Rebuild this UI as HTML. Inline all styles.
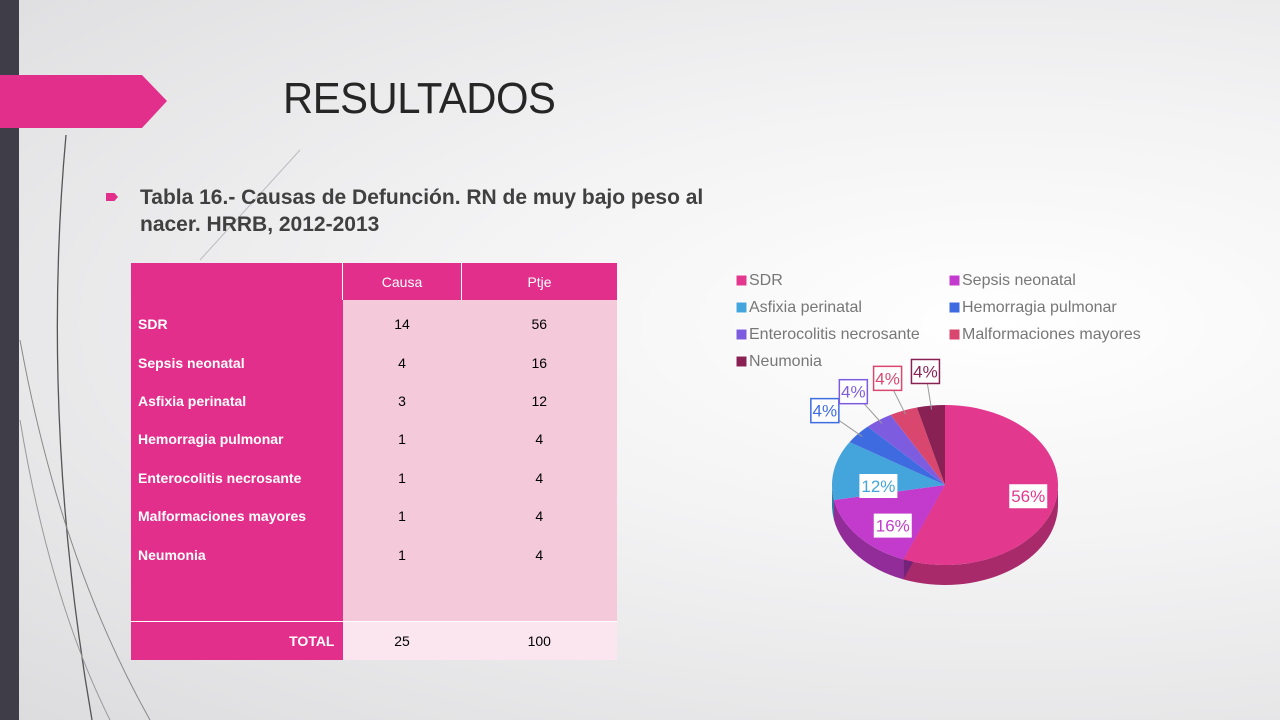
<!DOCTYPE html>
<html><head><meta charset="utf-8"><style>
body{margin:0;width:1280px;height:720px;overflow:hidden;font-family:"Liberation Sans",sans-serif;}
#slide{position:relative;width:1280px;height:720px;background:radial-gradient(ellipse at 78% 45%,#ffffff 0%,#f3f3f4 40%,#dcdcde 100%);}
.abs{position:absolute;}
table{border-collapse:collapse;font-size:14px;}
td{padding:0;}
</style></head><body>
<div id="slide">
<div class="abs" style="left:0;top:0;width:19px;height:720px;background:#3f3e48"></div>
<svg class="abs" style="left:0;top:0" width="400" height="720">
<path d="M66 135 Q40 420 92 720" stroke="#555" stroke-width="1.3" fill="none"/>
<path d="M20 340 Q60 560 150 720" stroke="#888" stroke-width="1" fill="none"/>
<path d="M20 420 Q50 600 110 720" stroke="#999" stroke-width="1" fill="none"/>
<path d="M200 260 L300 150" stroke="#bbb" stroke-width="1" fill="none"/>
</svg>
<svg class="abs" style="left:0;top:75" width="170" height="54"><polygon points="0,0 142,0 167,26 142,53 0,53" fill="#e22f8c"/></svg>
<div class="abs" style="left:283px;top:74px;font-size:44px;color:#262626;letter-spacing:-0.5px;transform:scaleX(0.95);transform-origin:left;">RESULTADOS</div>
<div class="abs" style="left:106px;top:193px;width:12px;height:8px;background:#e22f8c;clip-path:polygon(0 0,70% 0,100% 50%,70% 100%,0 100%)"></div>
<div class="abs" style="left:140px;top:184px;font-size:21px;font-weight:bold;color:#404040;line-height:27px;width:575px;">Tabla 16.- Causas de Defunción. RN de muy bajo peso al nacer. HRRB, 2012-2013</div>
<table class="abs" style="left:131px;top:263px;width:486px">
<tr style="height:37px;background:#e22f8c;color:#fff"><td style="width:211px;border-right:1px solid #fff"></td><td style="width:118px;text-align:center;border-right:1px solid #fff">Causa</td><td style="text-align:center">Ptje</td></tr>
<tr style="height:5px"><td style="background:#e22f8c"></td><td style="background:#f4cadb"></td><td style="background:#f4cadb"></td></tr>
<tbody id="tb"></tbody>
<tr style="height:38px"><td style="background:#e22f8c;color:#fff;font-weight:bold;text-align:right;padding-right:8px;border-top:1px solid #fff">TOTAL</td><td style="background:#fbe6ef;text-align:center;border-top:1px solid #fff">25</td><td style="background:#fbe6ef;text-align:center;border-top:1px solid #fff">100</td></tr>
</table>
<svg class="abs" style="left:700px;top:260px" width="580" height="360" id="chart"></svg>
</div>
<script>
const categories=["SDR","Sepsis neonatal","Asfixia perinatal","Hemorragia pulmonar","Enterocolitis necrosante","Malformaciones mayores","Neumonia"];
const counts=[14,4,3,1,1,1,1];
const percents=[56,16,12,4,4,4,4];
const colors=["#e2388e","#c33bcc","#44a4dc","#3f6be0","#7e5ce0","#d9466e","#8a2155"];
const NS="http://www.w3.org/2000/svg";
const tb=document.getElementById('tb');
categories.forEach((c,i)=>{
 const tr=document.createElement('tr');
 
 
 tr.style.height='38.4px';
 tr.innerHTML=`<td style="background:#e22f8c;color:#fff;font-weight:bold;padding-left:7px">${c}</td><td style="background:#f4cadb;text-align:center">${counts[i]}</td><td style="background:#f4cadb;text-align:center">${percents[i]}</td>`;
 tb.appendChild(tr);
});
const sp=document.createElement('tr');


sp.style.height='48px';
sp.innerHTML='<td style="background:#e22f8c"></td><td style="background:#f4cadb"></td><td style="background:#f4cadb"></td>';
tb.appendChild(sp);
const svg=document.getElementById('chart');
function el(t,a){const e=document.createElementNS(NS,t);for(const k in a)e.setAttribute(k,a[k]);svg.appendChild(e);return e;}
categories.forEach((c,i)=>{
 const col=i%2, row=Math.floor(i/2);
 const x=36+col*213, y=25+row*27;
 const r=el('rect',{x:x,y:y-10,width:11,height:11,fill:colors[i],stroke:'#fff','stroke-width':1});
 
 
 const t=el('text',{x:x+13,y:y,'font-size':16,fill:'#777','font-family':'Liberation Sans, sans-serif'});
 t.textContent=c;
 
 
});
const cx=245,cy=225,rx=113,ry=80,depth=20;
const total=percents.reduce((a,b)=>a+b,0);
function pt(a,k,dy){return [cx+rx*k*Math.sin(a),cy-ry*k*Math.cos(a)+(dy||0)];}
function shade(h,f){const n=parseInt(h.slice(1),16);let r=(n>>16)*f,g=((n>>8)&255)*f,b=(n&255)*f;return `rgb(${r|0},${g|0},${b|0})`;}
let acc=0;
const angs=percents.map(p=>{const s=acc/total*2*Math.PI;acc+=p;return [s,acc/total*2*Math.PI];});
angs.forEach(([s,e],i)=>{
 const a0=Math.max(s,Math.PI/2),a1=Math.min(e,3*Math.PI/2);
 if(a1>a0){
  const p0=pt(a0,1),p1=pt(a1,1);
  const w=el('path',{d:`M${p0} A${rx} ${ry} 0 0 1 ${p1} L${p1[0]} ${p1[1]+depth} A${rx} ${ry} 0 0 0 ${p0[0]} ${p0[1]+depth} Z`,fill:shade(colors[i],0.75)});
  
  
 }
});
{const e=angs[0][1];const p=pt(e,1);
 const w=el('path',{d:`M${cx} ${cy} L${p} L${p[0]} ${p[1]+depth} L${cx} ${cy+depth} Z`,fill:shade(colors[1],0.6)});
 
 }
angs.forEach(([s,e],i)=>{
 const p0=pt(s,1),p1=pt(e,1);const large=(e-s)>Math.PI?1:0;
 const sl=el('path',{d:`M${cx} ${cy} L${p0} A${rx} ${ry} 0 ${large} 1 ${p1} Z`,fill:colors[i]});
 
 
});
angs.forEach(([s,e],i)=>{
 const m=(s+e)/2;const out=percents[i]<10;
 const p=out?pt(m,1.38,-4):pt(m,i==0?0.75:0.6,i==0?0:10);
 const txt=percents[i]+'%';const w=txt.length*10+8;
 if(out){const a=pt(m,0.95);const l=el('line',{x1:a[0],y1:a[1],x2:p[0],y2:p[1],stroke:'#999','stroke-width':1});
  }
 const b=el('rect',{x:p[0]-w/2,y:p[1]-12,width:w,height:24,fill:'#fff',stroke:out?colors[i]:'none','stroke-width':1.5});
 
 
 const t=el('text',{x:p[0],y:p[1]+6,'text-anchor':'middle','font-size':17,fill:colors[i],'font-family':'Liberation Sans, sans-serif'});
 t.textContent=txt;
 
 
});
</script>
</body></html>
